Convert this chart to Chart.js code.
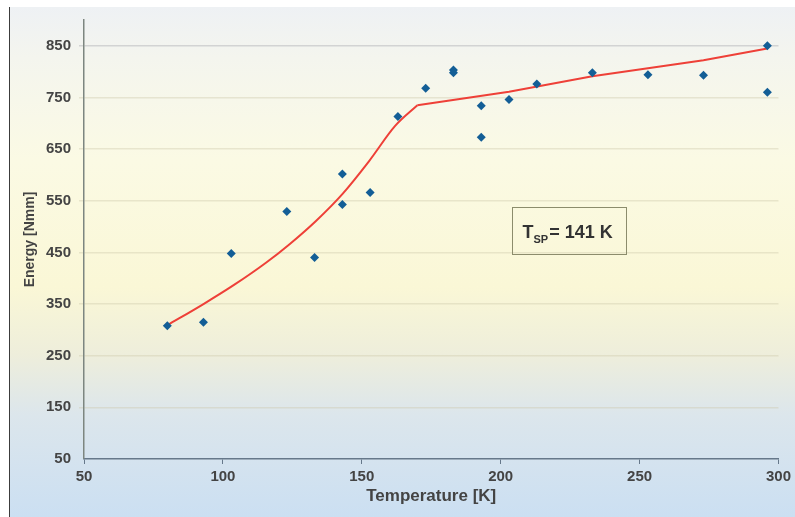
<!DOCTYPE html>
<html>
<head>
<meta charset="utf-8">
<script src="https://cdn.jsdelivr.net/npm/chart.js@4"></script>
<style>
  body { margin: 0; background: #fff; }
  .frame {
    position: absolute; left: 0; top: 0; width: 795px; height: 517px;
  }
  .bg {
    position: absolute; left: 9px; top: 7px; width: 786px; height: 510px;
    border-left: 1px solid #3c3c3c;
    background: linear-gradient(to bottom,
      #eef1f4 0%, #f4f5ee 10%, #fbfae4 30%, #faf7d6 55%,
      #eeeedb 68%, #dce6ec 80%, #cbdff2 100%);
  }
  canvas { position: absolute; left: 0; top: 0; }
</style>
</head>
<body>
<div class="frame">
  <div class="bg"></div>
  <canvas id="chart" width="795" height="517"></canvas>
</div>
<script>
// measured points (temperature K, energy Nmm)
const scatterT = [80, 93, 103, 123, 133, 143, 143, 153, 163, 173, 183, 183, 193, 193, 203, 213, 233, 253, 273, 296, 296];
const scatterE = [308, 315, 448, 529, 440, 602, 543, 566, 713, 768, 803, 798, 734, 673, 746, 776, 798, 794, 793, 850, 760];

// fitted curve: lower (curved) part and upper (straight) part
const fitLowT = [80, 93, 104, 115.5, 124, 133.5, 143, 152.5, 162, 170];
const fitLowE = [309, 350, 387, 430, 466, 511, 563, 626, 695, 735];
const fitHighT = [170, 203, 233, 273, 296];
const fitHighE = [735, 761, 791, 822, 845];

// axis ticks
const xTicks = [50, 100, 150, 200, 250, 300];
const yTicks = [50, 150, 250, 350, 450, 550, 650, 750, 850];

// text box, in data units
const note = { t0: 204, t1: 245, e0: 538, e1: 447, main: "T", sub: "SP", rest: "= 141 K" };

const toPoints = (xs, ys) => xs.map((x, i) => ({ x: x, y: ys[i] }));

const noteBox = {
  id: "noteBox",
  afterDraw(chart) {
    const { ctx, scales } = chart;
    const x0 = Math.round(scales.x.getPixelForValue(note.t0)) + 0.5;
    const x1 = Math.round(scales.x.getPixelForValue(note.t1)) + 0.5;
    const y0 = Math.round(scales.y.getPixelForValue(note.e0)) + 0.5;
    const y1 = Math.round(scales.y.getPixelForValue(note.e1)) + 0.5;
    ctx.save();
    ctx.strokeStyle = "#8c8c6c";
    ctx.lineWidth = 1;
    ctx.strokeRect(x0, y0, x1 - x0, y1 - y0);
    ctx.fillStyle = "#333";
    ctx.textBaseline = "alphabetic";
    let x = x0 + 10;
    const base = y0 + 30;
    ctx.font = "bold 18px 'Liberation Sans', Arial, sans-serif";
    ctx.fillText(note.main, x, base);
    x += ctx.measureText(note.main).width;
    ctx.font = "bold 11px 'Liberation Sans', Arial, sans-serif";
    ctx.fillText(note.sub, x, base + 5);
    x += ctx.measureText(note.sub).width + 1;
    ctx.font = "bold 18px 'Liberation Sans', Arial, sans-serif";
    ctx.fillText(note.rest, x, base);
    ctx.restore();
  }
};

const tickFont = { family: "'Liberation Sans', Arial, sans-serif", size: 15, weight: "bold" };
const fitStyle = {
  type: "line",
  borderColor: "#ee4038",
  borderWidth: 2,
  pointRadius: 0,
  fill: false,
  order: 2,
};

new Chart(document.getElementById("chart"), {
  type: "scatter",
  data: {
    datasets: [
      {
        label: "Measured",
        data: toPoints(scatterT, scatterE),
        pointStyle: "rectRot",
        pointRadius: 4.5,
        backgroundColor: "#135e96",
        borderColor: "#135e96",
        borderWidth: 0,
        order: 1,
      },
      Object.assign({ label: "Fit low", data: toPoints(fitLowT, fitLowE), cubicInterpolationMode: "monotone" }, fitStyle),
      Object.assign({ label: "Fit high", data: toPoints(fitHighT, fitHighE), tension: 0 }, fitStyle),
    ],
  },
  options: {
    responsive: false,
    animation: false,
    layout: { padding: { top: 20, right: 14, left: 0, bottom: 0 } },
    plugins: { legend: { display: false }, tooltip: { enabled: false } },
    scales: {
      x: {
        type: "linear",
        min: 50,
        max: 300,
        afterFit: (s) => { s.height = 58; },
        afterBuildTicks: (s) => { s.ticks = xTicks.map((v) => ({ value: v })); },
        border: { display: true, color: "#66788a", width: 1.5 },
        grid: { drawOnChartArea: false, drawTicks: true, tickLength: 5, color: "#66788a" },
        ticks: { font: tickFont, color: "#444", padding: 4, maxRotation: 0 },
        title: {
          display: true,
          text: "Temperature [K]",
          color: "#444",
          font: { family: "'Liberation Sans', Arial, sans-serif", size: 17, weight: "bold" },
          padding: { top: 0, bottom: 10 },
        },
      },
      y: {
        type: "linear",
        min: 50,
        max: 900,
        afterFit: (s) => { s.width = 84; },
        afterBuildTicks: (s) => { s.ticks = yTicks.map((v) => ({ value: v })); },
        border: { display: true, color: "#7d8680", width: 1.5 },
        grid: {
          drawTicks: true,
          tickLength: 5,
          color: (c) => (c.tick && c.tick.value === 850 ? "#d2d3d3" : "rgba(205,200,170,0.4)"),
          lineWidth: (c) => (c.tick && c.tick.value === 50 ? 0 : 1.5),
        },
        ticks: { font: tickFont, color: "#444", padding: 8 },
        title: {
          display: true,
          text: "Energy [Nmm]",
          color: "#444",
          font: { family: "'Liberation Sans', Arial, sans-serif", size: 14, weight: "bold" },
          padding: { top: 22, bottom: 0 },
        },
      },
    },
  },
  plugins: [noteBox],
});
</script>
</body>
</html>
